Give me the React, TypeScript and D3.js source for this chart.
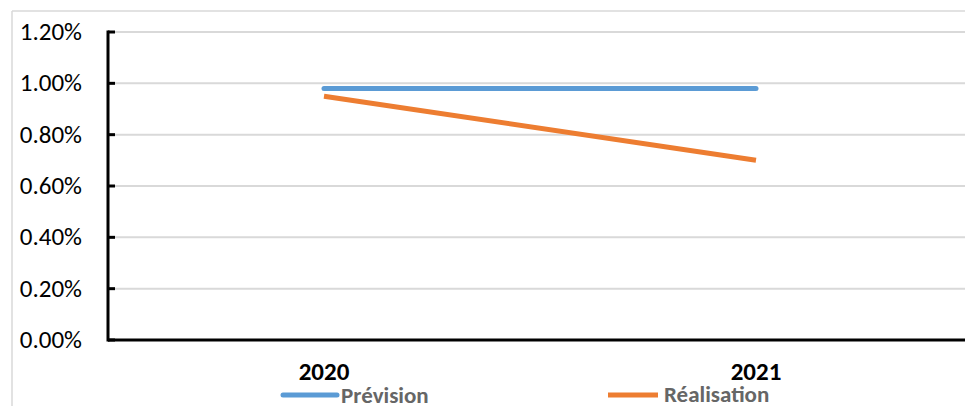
import React from "react";
import * as d3 from "d3";

const categories = ["2020", "2021"];
const prevision = [0.0098, 0.0098];
const realisation = [0.0095, 0.007];
const yTicks = [0, 0.002, 0.004, 0.006, 0.008, 0.01, 0.012];
const seriesNames = ["Prévision", "Réalisation"];
const colors = ["#5B9BD5", "#ED7D31"];

export default function App() {
  const W = 965, H = 406;
  const left = 108, right = 972, top = 32, bottom = 340;
  const x = d3.scaleBand<string>().domain(categories).range([left, right]);
  const y = d3.scaleLinear().domain([0, 0.012]).range([bottom, top]);
  const cx = (c: string) => (x(c) as number) + x.bandwidth() / 2;
  const line = d3.line<number>().x((_, i) => cx(categories[i])).y((v) => y(v));
  const fmt = d3.format(".2%");
  const font = "Carlito, 'Liberation Sans', 'Open Sans', sans-serif";
  return (
    <svg width={W} height={H} style={{ position: "absolute", left: 0, top: 0, fontFamily: font }}>
      <rect x={0} y={0} width={W} height={H} fill="#fff" />
      <line x1={12} y1={11} x2={W} y2={11} stroke="#d9d9d9" strokeWidth={1.5} />
      <line x1={12} y1={11} x2={12} y2={H} stroke="#d9d9d9" strokeWidth={1.5} />
      {yTicks.map((t) => (
        <g key={t}>
          {t > 0 && <line x1={left} x2={W} y1={y(t)} y2={y(t)} stroke="#d9d9d9" strokeWidth={2} />}
          <line x1={left} x2={left + 7} y1={y(t)} y2={y(t)} stroke="#000" strokeWidth={3} />
          <text x={82} y={y(t) + 8} textAnchor="end" fontSize={25} fill="#000">{fmt(t)}</text>
        </g>
      ))}
      <line x1={left} x2={left} y1={top - 1.5} y2={bottom + 1.5} stroke="#000" strokeWidth={3} />
      <line x1={left} x2={W} y1={bottom} y2={bottom} stroke="#000" strokeWidth={3} />
      {categories.map((c) => (
        <text key={c} x={cx(c)} y={380} textAnchor="middle" fontSize={25} fontWeight="bold" fill="#000">{c}</text>
      ))}
      <path d={line(prevision) || ""} fill="none" stroke={colors[0]} strokeWidth={5} strokeLinecap="round" />
      <path d={line(realisation) || ""} fill="none" stroke={colors[1]} strokeWidth={5} />
      <line x1={283} x2={337} y1={395} y2={395} stroke={colors[0]} strokeWidth={5} strokeLinecap="round" />
      <text x={341} y={402.5} fontSize={23} fontWeight="bold" fill="#666">{seriesNames[0]}</text>
      <line x1={608} x2={658} y1={395} y2={395} stroke={colors[1]} strokeWidth={5} />
      <text x={664} y={402} fontSize={23} fontWeight="bold" fill="#666">{seriesNames[1]}</text>
    </svg>
  );
}
